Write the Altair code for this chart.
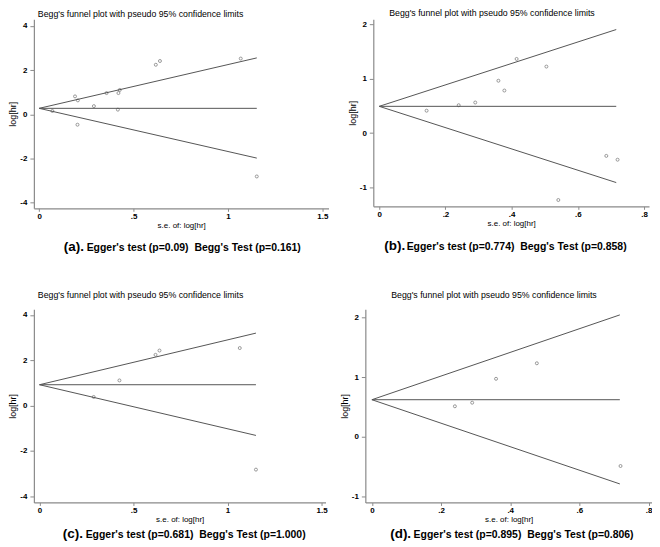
import altair as alt
import pandas as pd

# ---------------- text ----------------
PLOT_TITLE = "Begg's funnel plot with pseudo 95% confidence limits"
X_TITLE = "s.e. of: log[hr]"
Y_TITLE = "log[hr]"
CAPTION_TAGS = ["(a).", "(b).", "(c).", "(d)."]
CAPTION_TEXTS = [
    "Egger's test (p=0.09)\u00a0 Begg's Test (p=0.161)",
    "Egger's test (p=0.774)\u00a0 Begg's Test (p=0.858)",
    "Egger's test (p=0.681)\u00a0 Begg's Test (p=1.000)",
    "Egger's test (p=0.895)\u00a0 Begg's Test (p=0.806)",
]

# ---------------- data ----------------
A_SE = [0.07, 0.19, 0.205, 0.203, 0.29, 0.357, 0.42, 0.427, 0.417, 0.618, 0.64, 1.068, 1.153]
A_LOGHR = [0.15, 0.81, 0.63, -0.47, 0.37, 0.96, 0.96, 1.10, 0.21, 2.24, 2.41, 2.52, -2.81]

B_SE = [0.143, 0.24, 0.29, 0.36, 0.378, 0.415, 0.505, 0.541, 0.686, 0.72]
B_LOGHR = [0.41, 0.51, 0.56, 0.96, 0.78, 1.36, 1.22, -1.23, -0.42, -0.49]

C_SE = [0.288, 0.425, 0.617, 0.638, 1.065, 1.151]
C_LOGHR = [0.38, 1.11, 2.24, 2.43, 2.54, -2.83]

D_SE = [0.24, 0.29, 0.359, 0.477, 0.719]
D_LOGHR = [0.51, 0.57, 0.97, 1.23, -0.49]

# pseudo 95% limits: pooled estimate, last s.e., upper and lower end values
FUNNEL_CENTER = [0.27, 0.49, 0.92, 0.62]
FUNNEL_END_SE = [1.153, 0.716, 1.151, 0.717]
FUNNEL_UPPER = [2.55, 1.90, 3.20, 2.04]
FUNNEL_LOWER = [-1.98, -0.91, -1.32, -0.79]

X_TICKS_WIDE = [0, 0.5, 1, 1.5]
X_TICKS_NARROW = [0, 0.2, 0.4, 0.6, 0.8]
Y_TICKS_WIDE = [-4, -2, 0, 2, 4]
Y_TICKS_NARROW = [-1, 0, 1, 2]

# ---------------- layout / style ----------------
TITLE_FONT = "Liberation Sans, Arial, sans-serif"
BODY_FONT = "Liberation Sans, Arial, sans-serif"
LINE_COLOR = "#555555"
AXIS_COLOR = "#8a8a8a"


def panel(k, se, loghr, xdom, ydom, xticks, yticks, w, h,
          title_dx, title_offset, tag_dx, text_dx, cap_dy):
    pts = pd.DataFrame({"se": se, "loghr": loghr})
    end = FUNNEL_END_SE[k]
    c = FUNNEL_CENTER[k]
    lines = pd.DataFrame({
        "se": [0, end, 0, end, 0, end],
        "loghr": [c, FUNNEL_UPPER[k], c, c, c, FUNNEL_LOWER[k]],
        "limit": ["upper", "upper", "pooled", "pooled", "lower", "lower"],
    })
    xs = alt.Scale(domain=xdom, nice=False, zero=False)
    ys = alt.Scale(domain=ydom, nice=False, zero=False)
    x = alt.X("se:Q", scale=xs, title=X_TITLE,
              axis=alt.Axis(values=xticks, format=".2~f",
                            labelExpr="replace(datum.label, '0.', '.')"))
    y = alt.Y("loghr:Q", scale=ys, title=Y_TITLE,
              axis=alt.Axis(values=yticks,
                            labelExpr="datum.value < 0 ? '-' + abs(datum.value) : '' + datum.value"))

    line_layer = alt.Chart(lines).mark_line(color=LINE_COLOR, strokeWidth=1).encode(
        x=x, y=y, detail="limit:N")
    point_layer = alt.Chart(pts).mark_point(
        shape="circle", filled=False, size=9, strokeWidth=0.8, color="#4d4d4d"
    ).encode(x=x, y=y)

    tag = alt.Chart(pd.DataFrame({"t": [CAPTION_TAGS[k]]})).mark_text(
        align="left", baseline="alphabetic", font=BODY_FONT, fontSize=13.5,
        fontWeight="bold", color="black"
    ).encode(text="t:N", x=alt.value(tag_dx), y=alt.value(h + cap_dy))
    txt = alt.Chart(pd.DataFrame({"t": [CAPTION_TEXTS[k]]})).mark_text(
        align="left", baseline="alphabetic", font=BODY_FONT, fontSize=10.5,
        fontWeight="bold", color="black"
    ).encode(text="t:N", x=alt.value(text_dx), y=alt.value(h + cap_dy))

    return alt.layer(line_layer, point_layer, tag, txt).properties(
        width=w, height=h,
        title=alt.TitleParams(PLOT_TITLE, anchor="start", frame="group",
                              dx=title_dx, offset=title_offset,
                              font=TITLE_FONT, fontSize=8.8,
                              fontWeight="normal", color="black"),
    )


pa = panel(0, A_SE, A_LOGHR, [-0.028, 1.533], [-4.25, 4.30], X_TICKS_WIDE, Y_TICKS_WIDE,
           296, 190, 4, 0, 30, 53, 43.2)
pb = panel(1, B_SE, B_LOGHR, [-0.018, 0.815], [-1.346, 2.09], X_TICKS_NARROW, Y_TICKS_NARROW,
           277, 188, 16, 1, 11, 33.5, 43.5)
pc = panel(2, C_SE, C_LOGHR, [-0.03, 1.521], [-4.28, 4.25], X_TICKS_WIDE, Y_TICKS_WIDE,
           293, 194, 4, 10, 29, 52, 36.2)
pd_ = panel(3, D_SE, D_LOGHR, [-0.019, 0.81], [-1.10, 2.133], X_TICKS_NARROW, Y_TICKS_NARROW,
            288, 194, 26, 10, 25, 48.5, 36.2)

row1 = alt.hconcat(pa, pb, spacing=19)
row2 = alt.hconcat(pc, pd_, spacing=12)

chart = alt.vconcat(row1, row2, spacing=36.5).properties(
    padding={"left": 0, "top": 0, "right": 0, "bottom": 0},
    background="white",
).configure_view(stroke=None).configure_axis(
    grid=False, domainColor=AXIS_COLOR, domainWidth=1.2, tickColor=AXIS_COLOR,
    labelFont=BODY_FONT, labelFontSize=8, labelFontWeight="bold", labelColor="black",
    titleFont=BODY_FONT, titleFontWeight="normal", titleColor="black",
    labelOverlap=False, labelFlush=False,
).configure_axisX(
    tickSize=3, labelPadding=1, titlePadding=1, titleFontSize=8
).configure_axisY(
    tickSize=4, labelPadding=3, titlePadding=2, titleFontSize=9, labelAngle=0
)

chart.save("out.html", embed_options={"renderer": "svg", "actions": False})
